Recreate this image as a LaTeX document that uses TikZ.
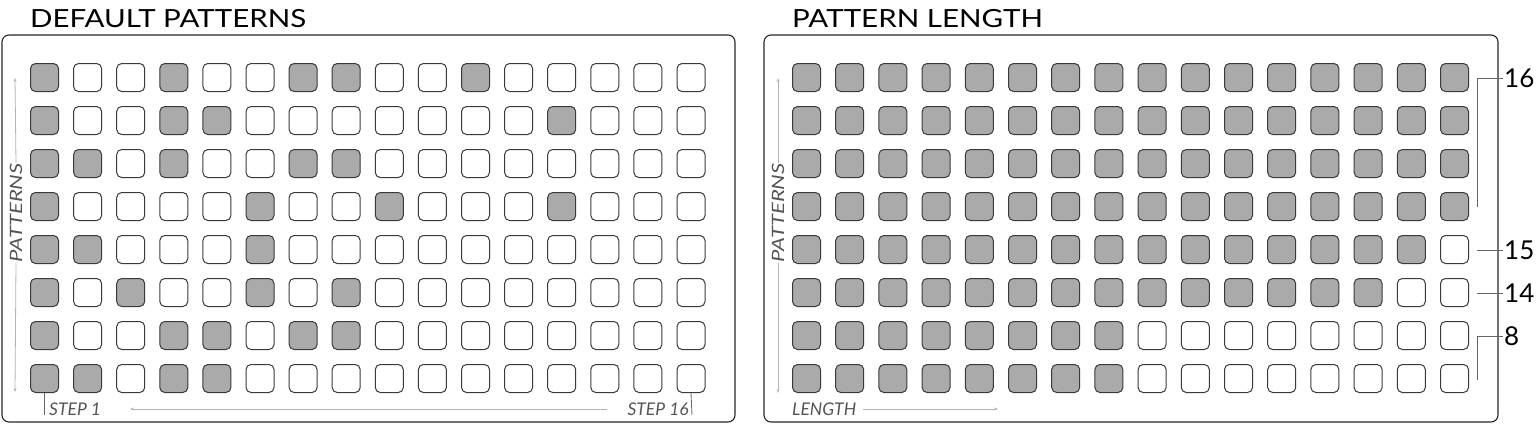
\documentclass[tikz,border=0pt]{standalone}
\usepackage{fontspec}
\setmainfont{Lato}
\newfontfamily\titlefont[FakeStretch=1.18]{Lato}
\newfontfamily\patfont[FakeStretch=1.3]{Lato}
\usetikzlibrary{arrows.meta}
\definecolor{pad1}{HTML}{A9AAA9}
\definecolor{pad0}{HTML}{FFFFFF}
\definecolor{padline}{HTML}{3A3A3A}
\definecolor{axisgray}{HTML}{B4B4B4}
\definecolor{labgray}{HTML}{555555}
\begin{document}
\begin{tikzpicture}[x=1pt,y=-1pt,
  pad/.style={draw=padline, line width=1pt, rounded corners=5pt, minimum width=28pt, minimum height=28pt, inner sep=0pt},
  panel/.style={draw=black!85, line width=1.1pt, rounded corners=7pt},
  title/.style={font=\titlefont\fontsize{25}{25}\selectfont, anchor=base west, inner sep=0pt},
  axis/.style={draw=axisgray, line width=0.8pt},
  axtip/.style={-{Stealth[length=4pt,width=3pt]}},
  axlab/.style={font=\itshape\fontsize{17.5}{17.5}\selectfont, text=labgray, inner sep=0pt},
  patlab/.style={font=\patfont\itshape\fontsize{17}{17}\selectfont, text=labgray, inner sep=0pt},
  num/.style={font=\fontsize{26}{26}\selectfont, anchor=west, inner sep=1pt},
  bracket/.style={draw=black!60, line width=1pt}
]
\useasboundingbox (0,0) rectangle (1536,424);

% panels
\draw[panel] (2,35) rectangle (735,422);
\draw[panel] (764,35) rectangle (1498,422);

% titles
\node[title] (t1) at (30,27) {DEFAULT PATTERNS};
\node[title] (t2) at (792,27) {PATTERN LENGTH};

% left grid
\foreach \bits [count=\r from 0] in {
  {1,0,0,1,0,0,1,1,0,0,1,0,0,0,0,0},
  {1,0,0,1,1,0,0,0,0,0,0,0,1,0,0,0},
  {1,1,0,1,0,0,1,1,0,0,0,0,0,0,0,0},
  {1,0,0,0,0,1,0,0,1,0,0,0,1,0,0,0},
  {1,1,0,0,0,1,0,0,0,0,0,0,0,0,0,0},
  {1,0,1,0,0,1,0,1,0,0,0,0,0,0,0,0},
  {1,0,0,1,1,0,1,1,0,0,0,0,0,0,0,0},
  {1,1,0,1,1,0,0,0,0,0,0,0,0,0,0,0}} {
  \foreach \b [count=\c from 0] in \bits {
    \node[pad, fill=pad\b] (l-\r-\c) at ({44.5+43.1*\c},{77.5+43*\r}) {};
  }
}

% right grid
\foreach \n [count=\r from 0] in {16,16,16,16,15,14,8,8} {
  \foreach \c in {0,...,15} {
    \pgfmathtruncatemacro{\b}{\c<\n ? 1 : 0}
    \node[pad, fill=pad\b] (r-\r-\c) at ({806.5+43.2*\c},{77.5+43*\r}) {};
  }
}

% left axes
\node[patlab, rotate=90] (patL) at (16,213) {PATTERNS};
\coordinate (patLtop) at (15,78);
\coordinate (patLbot) at (15,392);
\draw[axis, axtip] (patL.east) -- (patLtop);
\draw[axis, axtip] (patL.west) -- (patLbot);

\node[axlab, anchor=west] (s1) at (49,409) {STEP 1};
\node[axlab, anchor=east] (s16) at (689,409) {STEP 16};
\coordinate (s1tick) at (44.5,415);
\coordinate (s16tick) at (692,415);
\draw[line width=0.8pt, draw=black!60] (l-7-0.south) -- (s1tick);
\draw[line width=0.8pt, draw=black!60] (l-7-15.south) -- (s16tick);
\coordinate (stepA) at (130,409);
\coordinate (stepB) at (607,409);
\draw[axis, axtip] (stepB) -- (stepA);

% right axes
\node[patlab, rotate=90] (patR) at (778,213) {PATTERNS};
\coordinate (patRtop) at (778,78);
\coordinate (patRbot) at (778,393);
\draw[axis, axtip] (patR.east) -- (patRtop);
\draw[axis, axtip] (patR.west) -- (patRbot);

\node[axlab, anchor=west] (len) at (792,409) {LENGTH};
\coordinate (lenA) at (863,409);
\coordinate (lenB) at (998,409);
\draw[axis, axtip] (lenA) -- (lenB);

% length labels
\node[num] (n16) at (1503,78) {16};
\node[num] (n15) at (1503,250) {15};
\node[num] (n14) at (1503,293) {14};
\node[num] (n8) at (1503,336) {8};
\coordinate (b16) at (1477,207);
\coordinate (b15) at (1477,250);
\coordinate (b14) at (1477,293);
\coordinate (b8) at (1477,380);
\draw[bracket] (n16.west) -| (b16);
\draw[bracket] (n15.west) -- (b15);
\draw[bracket] (n14.west) -- (b14);
\draw[bracket] (n8.west) -| (b8);
\end{tikzpicture}
\end{document}
